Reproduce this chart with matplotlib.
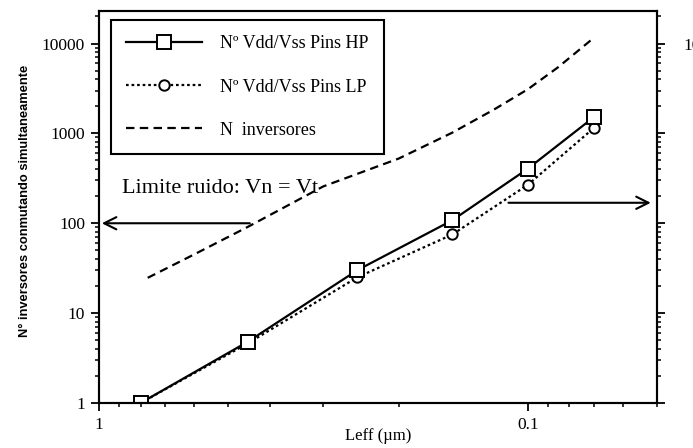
import numpy as np
import matplotlib
matplotlib.use("Agg")
import matplotlib.pyplot as plt
from matplotlib.ticker import LogLocator, NullFormatter

plt.rcParams["font.family"] = ["Liberation Serif", "DejaVu Serif"]

# Leff (um) of each point and pins needed
leff = [0.8, 0.45, 0.25, 0.15, 0.1, 0.07]
pins_hp = [1, 4.8, 30, 108, 405, 1530]
pins_lp = [1, 4.6, 25, 75, 268, 1160]

# inverter curve
leff_inv = [0.77, 0.6, 0.45, 0.3, 0.2, 0.15, 0.12, 0.1, 0.085, 0.07]
n_inv = [24.7, 45, 91, 257, 525, 1020, 1840, 3100, 5450, 11700]

xticks = [1, 0.1]
xticklabels = ["1", "0.1"]
yticks = [1, 10, 100, 1000, 10000]
yticklabels = ["1", "10", "100", "1000", "10000"]
# right axis: only the top two labels reach into the picture
yticklabels_right = ["", "", "", "1000", "10000"]

fig = plt.figure(figsize=(6.93, 4.48), dpi=100)
ax = fig.add_axes([99/693, 45/448, 558/693, 392/448])
ax.set_xscale("log")
ax.set_yscale("log")

l_lp, = ax.plot(leff, pins_lp, color="k", lw=1.6, ls=(0, (1.2, 1.3)),
                marker="o", ms=7.5, mfc="white", mec="k", mew=1.4,
                label="Nº Vdd/Vss Pins LP")
l_hp, = ax.plot(leff, pins_hp, color="k", lw=1.6, ls="-",
                marker="s", ms=9.5, mfc="white", mec="k", mew=1.4,
                label="Nº Vdd/Vss Pins HP")
l_inv, = ax.plot(leff_inv, n_inv, color="k", lw=1.6, ls=(0, (3.8, 2.4)),
                 label="N  inversores")

ax.set_xlim(1, 0.05)
ax.set_ylim(1, 2.3e4)

ax.set_xticks(xticks, xticklabels)
ax.xaxis.set_minor_locator(LogLocator(base=10, subs=np.arange(2, 10)))
ax.xaxis.set_minor_formatter(NullFormatter())
ax.set_yticks(yticks, yticklabels)
ax.yaxis.set_minor_locator(LogLocator(base=10, subs=np.arange(2, 10)))
ax.yaxis.set_minor_formatter(NullFormatter())

ax.tick_params(which="major", direction="out", length=6, width=1.3, labelsize=12.5, pad=4)
ax.tick_params(which="minor", direction="out", length=3, width=1.1)
for s in ax.spines.values():
    s.set_linewidth(1.5)

# right axis (cut off at figure edge)
ax2 = ax.twinx()
ax2.set_yscale("log")
ax2.set_ylim(ax.get_ylim())
ax2.set_yticks(yticks, yticklabels_right, ha="right")
ax2.yaxis.set_minor_locator(LogLocator(base=10, subs=np.arange(2, 10)))
ax2.yaxis.set_minor_formatter(NullFormatter())
ax2.tick_params(which="major", direction="out", length=6, width=1.3, labelsize=12.5, pad=44)
ax2.tick_params(which="minor", direction="out", length=3, width=1.1)
for s in ax2.spines.values():
    s.set_linewidth(1.5)

ax.set_xlabel("Leff (µm)", fontsize=12)
ax.xaxis.set_label_coords(0.5, -0.084)
ax.xaxis.label.set_va("center")
ax.set_ylabel("N° inversores conmutando simultaneamente", fontsize=9.3,
              fontweight="bold", family=["Liberation Sans", "DejaVu Sans"])
ax.yaxis.set_label_coords(-0.1326, 0.515)
ax.yaxis.label.set_va("center")

leg = ax.legend(handles=[l_hp, l_lp, l_inv], loc="upper left",
                bbox_to_anchor=(0.0215, 0.977), borderaxespad=0, fontsize=13,
                handlelength=4.2, handletextpad=1.0, labelspacing=1.45,
                borderpad=0.85, fancybox=False, edgecolor="k", framealpha=1)
leg.get_frame().set_linewidth(1.5)

ax.text(0.041, 0.536, "Limite ruido: Vn = Vt", transform=ax.transAxes,
        fontsize=16, va="baseline")
ax.annotate("", xy=(0.985, 100), xytext=(0.445, 100),
            arrowprops=dict(arrowstyle="->", lw=1.5, color="k",
                            mutation_scale=22, shrinkA=0, shrinkB=0))
ax.annotate("", xy=(0.0517, 169), xytext=(0.111, 169),
            arrowprops=dict(arrowstyle="->", lw=1.5, color="k",
                            mutation_scale=22, shrinkA=0, shrinkB=0))

fig.savefig("out.png", dpi=100)
